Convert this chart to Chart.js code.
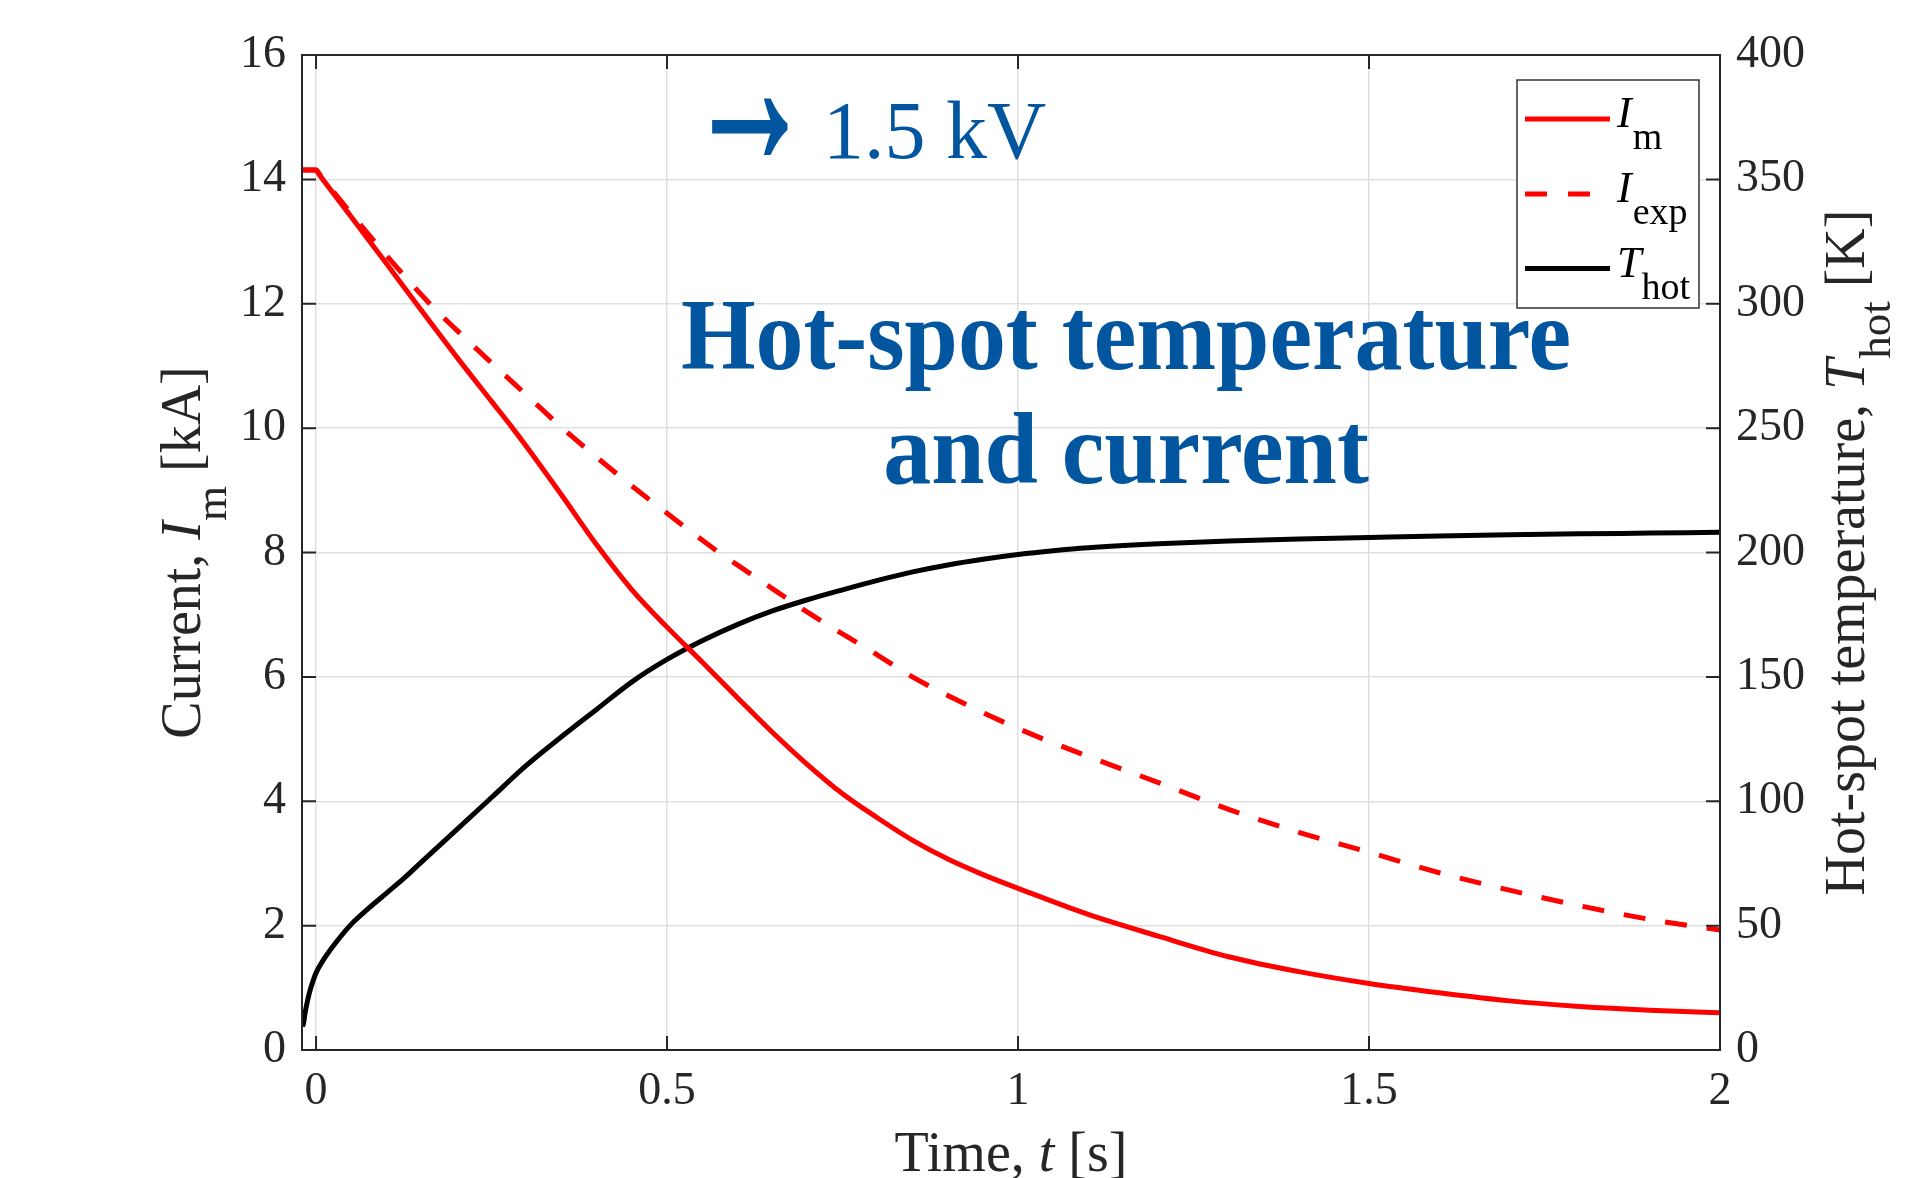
<!DOCTYPE html>
<html>
<head>
<meta charset="utf-8">
<script src="https://cdn.jsdelivr.net/npm/chart.js@4.4.0/dist/chart.umd.min.js"></script>
<style>
  html, body { margin: 0; padding: 0; background: #fff; }
  canvas { display: block; }
</style>
</head>
<body>
<canvas id="chart" width="1931" height="1178"></canvas>
<script>
// time [s] and measured / simulated current [kA]
const timeIm = [-0.02, 0, 0.005, 0.05, 0.1, 0.143, 0.2, 0.25, 0.28, 0.3, 0.35, 0.4, 0.45, 0.5, 0.55, 0.6, 0.65, 0.7, 0.75, 0.8, 0.85, 0.9, 0.95, 1.0, 1.1, 1.2, 1.3, 1.4, 1.5, 1.6, 1.7, 1.8, 1.9, 2.0];
const valuesIm = [14.15, 14.15, 14.07, 13.4, 12.65, 12.0, 11.15, 10.43, 10.0, 9.7, 8.92, 8.12, 7.4, 6.8, 6.24, 5.67, 5.11, 4.59, 4.12, 3.73, 3.37, 3.07, 2.82, 2.6, 2.18, 1.83, 1.5, 1.26, 1.07, 0.92, 0.79, 0.7, 0.64, 0.6];

const timeExp = [-0.02, 0, 0.005, 0.05, 0.1, 0.162, 0.2, 0.25, 0.3, 0.351, 0.4, 0.45, 0.5, 0.574, 0.6, 0.65, 0.7, 0.8, 0.845, 0.9, 1.0, 1.1, 1.2, 1.3, 1.4, 1.5, 1.6, 1.7, 1.8, 1.9, 2.0];
const valuesExp = [14.15, 14.15, 14.08, 13.45, 12.78, 12.0, 11.58, 11.05, 10.53, 10.0, 9.53, 9.07, 8.63, 8.0, 7.8, 7.42, 7.04, 6.35, 6.03, 5.7, 5.17, 4.72, 4.3, 3.87, 3.5, 3.18, 2.85, 2.57, 2.32, 2.1, 1.93];

// hot-spot temperature [K]
const timeT = [-0.0195, -0.018, -0.0155, -0.012, -0.0085, -0.004, 0, 0.01, 0.025, 0.05, 0.075, 0.1, 0.125, 0.15, 0.2, 0.25, 0.3, 0.35, 0.4, 0.45, 0.5, 0.55, 0.6, 0.65, 0.7, 0.75, 0.8, 0.85, 0.9, 0.95, 1.0, 1.05, 1.1, 1.2, 1.3, 1.4, 1.5, 1.6, 1.7, 1.8, 1.9, 2.0];
const valuesT = [9.5, 10.5, 15, 20, 24, 28, 31, 36, 42, 50.5, 57, 63, 69, 75.5, 88.5, 101.5, 114.5, 126, 137, 148, 157, 164.5, 171, 176.5, 181, 185, 188.8, 192.2, 195.0, 197.3, 199.2, 200.7, 201.9, 203.5, 204.6, 205.4, 206.0, 206.6, 207.1, 207.5, 207.8, 208.1];

const xTicks = [0, 0.5, 1, 1.5, 2];
const xTickLabels = ['0', '0.5', '1', '1.5', '2'];
const yLeftTicks = [0, 2, 4, 6, 8, 10, 12, 14, 16];
const yRightTicks = [0, 50, 100, 150, 200, 250, 300, 350, 400];

const seriesMain = ['I', 'I', 'T'];
const seriesSub = ['m', 'exp', 'hot'];
const seriesColors = ['#ff0000', '#ff0000', '#000000'];

const serif = "'Liberation Serif', 'Times New Roman', serif";
const axisColor = '#262626';
const gridColor = '#dfdfdf';
const blue = '#02559f';
const tickLen = 14;

const toPoints = (xs, ys) => xs.map((x, i) => ({ x: x, y: ys[i] }));

// draws text made of normal / italic / subscript pieces
function drawRich(ctx, parts, x, y, size, align) {
  const fontOf = p => (p.italic ? 'italic ' : '') + (p.sub ? Math.round(size * 0.8) : size) + 'px ' + serif;
  let total = 0;
  parts.forEach(p => { ctx.font = fontOf(p); total += ctx.measureText(p.text).width; });
  let cx = align === 'center' ? x - total / 2 : x;
  ctx.textAlign = 'left';
  ctx.textBaseline = 'alphabetic';
  parts.forEach(p => {
    ctx.font = fontOf(p);
    ctx.fillText(p.text, cx, y + (p.sub ? size * 0.47 : 0));
    cx += ctx.measureText(p.text).width;
  });
}

const framePlugin = {
  id: 'frame',
  afterDatasetsDraw(chart) {
    const { ctx, chartArea: a, scales } = chart;
    ctx.save();
    ctx.strokeStyle = axisColor;
    ctx.lineWidth = 2;
    ctx.beginPath();
    xTicks.forEach(v => {
      const px = scales.x.getPixelForValue(v);
      ctx.moveTo(px, a.bottom); ctx.lineTo(px, a.bottom - tickLen);
      ctx.moveTo(px, a.top); ctx.lineTo(px, a.top + tickLen);
    });
    yLeftTicks.forEach(v => {
      const py = scales.y.getPixelForValue(v);
      ctx.moveTo(a.left, py); ctx.lineTo(a.left + tickLen, py);
    });
    yRightTicks.forEach(v => {
      const py = scales.y2.getPixelForValue(v);
      ctx.moveTo(a.right, py); ctx.lineTo(a.right - tickLen, py);
    });
    ctx.stroke();
    ctx.strokeRect(a.left, a.top, a.right - a.left, a.bottom - a.top);
    ctx.restore();
  },
  afterDraw(chart) {
    const { ctx, chartArea: a } = chart;
    const midY = (a.top + a.bottom) / 2;
    ctx.save();
    ctx.fillStyle = axisColor;

    // axis titles
    ctx.save();
    ctx.translate(200, midY);
    ctx.rotate(-Math.PI / 2);
    drawRich(ctx, [{ text: 'Current, ' }, { text: 'I', italic: true }, { text: 'm', sub: true }, { text: ' [kA]' }], 0, 0, 56, 'center');
    ctx.restore();

    ctx.save();
    ctx.translate(1864, midY);
    ctx.rotate(-Math.PI / 2);
    drawRich(ctx, [{ text: 'Hot-spot temperature, ' }, { text: 'T', italic: true }, { text: 'hot', sub: true }, { text: ' [K]' }], 0, 0, 56, 'center');
    ctx.restore();

    drawRich(ctx, [{ text: 'Time, ' }, { text: 't', italic: true }, { text: ' [s]' }], (a.left + a.right) / 2, 1171, 56, 'center');

    // legend
    const lx = 1517, ly = 80, lw = 182, lh = 228;
    ctx.fillStyle = '#ffffff';
    ctx.fillRect(lx, ly, lw, lh);
    ctx.strokeStyle = '#333333';
    ctx.lineWidth = 1.5;
    ctx.strokeRect(lx, ly, lw, lh);
    const rowY = [119, 194, 268.5];
    seriesMain.forEach((m, i) => {
      ctx.save();
      ctx.strokeStyle = seriesColors[i];
      ctx.lineWidth = 5;
      if (i === 1) ctx.setLineDash([22, 21]);
      ctx.beginPath();
      ctx.moveTo(1525, rowY[i]);
      ctx.lineTo(1610, rowY[i]);
      ctx.stroke();
      ctx.restore();
      ctx.fillStyle = '#000000';
      ctx.font = 'italic 44px ' + serif;
      ctx.textAlign = 'left';
      ctx.textBaseline = 'alphabetic';
      const base = rowY[i] + 8;
      ctx.fillText(m, 1617, base);
      const w = ctx.measureText(m).width;
      ctx.font = '38px ' + serif;
      ctx.fillText(seriesSub[i], 1617 + w + (i === 2 ? 0 : 1), base + 22);
    });

    // annotations
    ctx.fillStyle = blue;
    ctx.save();
    ctx.font = 'bold 80px "Liberation Sans"';
    const m = ctx.measureText('\u2192');
    const bw = m.actualBoundingBoxLeft + m.actualBoundingBoxRight;
    const bh = m.actualBoundingBoxAscent + m.actualBoundingBoxDescent;
    ctx.translate(713, 100);
    ctx.scale(74 / bw, 56 / bh);
    ctx.textAlign = 'left';
    ctx.textBaseline = 'alphabetic';
    ctx.strokeStyle = blue;
    ctx.lineWidth = 1.5;
    ctx.fillText('\u2192', m.actualBoundingBoxLeft, m.actualBoundingBoxAscent);
    ctx.strokeText('\u2192', m.actualBoundingBoxLeft, m.actualBoundingBoxAscent);
    ctx.restore();

    ctx.font = '82px ' + serif;
    ctx.textAlign = 'left';
    ctx.textBaseline = 'alphabetic';
    ctx.fillText('1.5 kV', 823, 158);

    ctx.font = 'bold 102px ' + serif;
    ctx.textAlign = 'center';
    [['Hot-spot temperature', 369], ['and current', 483]].forEach(([t, by]) => {
      ctx.save();
      ctx.translate(1126, by);
      ctx.scale(0.94, 1);
      ctx.fillText(t, 0, 0);
      ctx.restore();
    });
    ctx.restore();
  }
};

const tickFont = { family: serif, size: 46 };

new Chart(document.getElementById('chart').getContext('2d'), {
  type: 'line',
  data: {
    datasets: [
      {
        label: 'Im',
        data: toPoints(timeIm, valuesIm),
        borderColor: seriesColors[0],
        borderWidth: 5,
        yAxisID: 'y'
      },
      {
        label: 'Iexp',
        data: toPoints(timeExp, valuesExp),
        borderColor: seriesColors[1],
        borderWidth: 5,
        borderDash: [22, 20],
        yAxisID: 'y'
      },
      {
        label: 'Thot',
        data: toPoints(timeT, valuesT),
        borderColor: seriesColors[2],
        borderWidth: 5,
        yAxisID: 'y2'
      }
    ]
  },
  options: {
    responsive: false,
    animation: false,
    parsing: false,
    elements: {
      point: { radius: 0 },
      line: { cubicInterpolationMode: 'monotone', fill: false, borderCapStyle: 'butt' }
    },
    layout: { padding: { top: 55, left: 0, right: 0, bottom: 0 } },
    plugins: {
      legend: { display: false },
      tooltip: { enabled: false }
    },
    scales: {
      x: {
        type: 'linear',
        position: 'bottom',
        min: -0.02,
        max: 2,
        afterBuildTicks: s => { s.ticks = xTicks.map(v => ({ value: v })); },
        afterFit: s => { s.height = 128; },
        grid: { color: gridColor, lineWidth: 1.5, drawTicks: false },
        border: { display: false },
        ticks: {
          font: tickFont,
          color: axisColor,
          padding: 14,
          maxRotation: 0,
          autoSkip: false,
          callback: (v, i) => xTickLabels[i]
        }
      },
      y: {
        type: 'linear',
        position: 'left',
        min: 0,
        max: 16,
        afterBuildTicks: s => { s.ticks = yLeftTicks.map(v => ({ value: v })); },
        afterFit: s => { s.width = 302; },
        grid: { color: gridColor, lineWidth: 1.5, drawTicks: false },
        border: { display: false },
        ticks: { font: tickFont, color: axisColor, padding: 16, autoSkip: false }
      },
      y2: {
        type: 'linear',
        position: 'right',
        min: 0,
        max: 400,
        afterBuildTicks: s => { s.ticks = yRightTicks.map(v => ({ value: v })); },
        afterFit: s => { s.width = 211; },
        grid: { drawOnChartArea: false, drawTicks: false },
        border: { display: false },
        ticks: { font: tickFont, color: axisColor, padding: 16, autoSkip: false }
      }
    }
  },
  plugins: [framePlugin]
});
</script>
</body>
</html>
